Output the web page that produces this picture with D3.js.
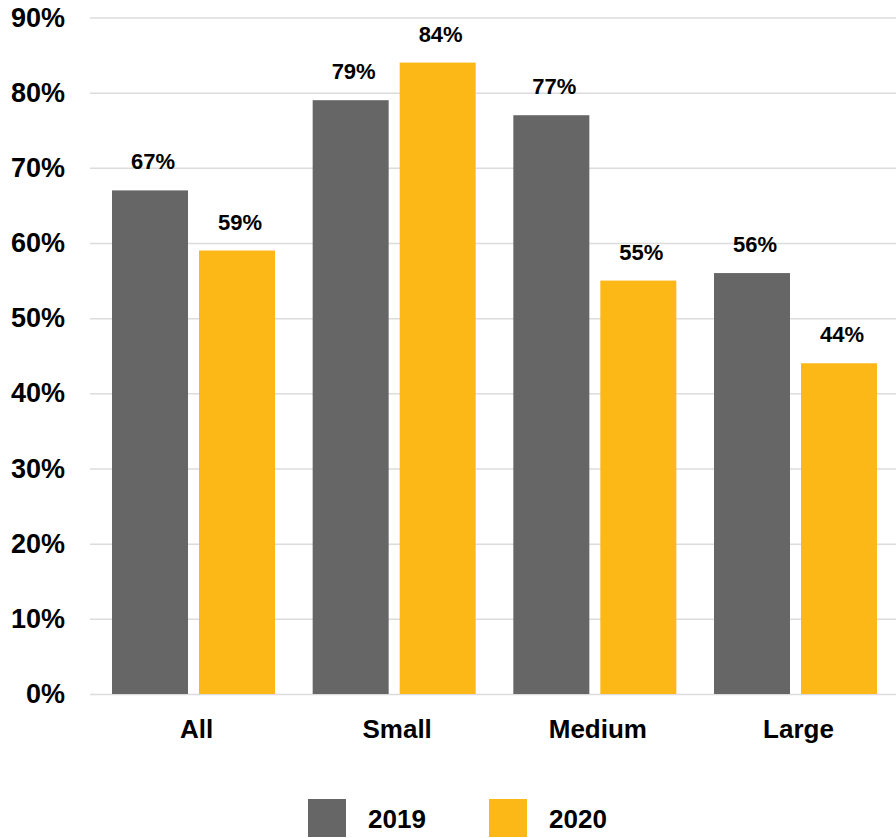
<!DOCTYPE html>
<html>
<head>
<meta charset="utf-8">
<script src="https://cdn.jsdelivr.net/npm/d3@7"></script>
<style>
  html, body { margin: 0; padding: 0; background: #fff; }
  svg { display: block; font-family: "Liberation Sans", Arial, Helvetica, sans-serif; font-weight: bold; }
</style>
</head>
<body>
<svg id="chart" width="896" height="838"></svg>
<script>
// Share of respondents by company size, 2019 vs 2020
const categories = ["All", "Small", "Medium", "Large"];
const seriesNames = ["2019", "2020"];
const values2019 = [67, 79, 77, 56];
const values2020 = [59, 84, 55, 44];
const yTicks = [0, 10, 20, 30, 40, 50, 60, 70, 80, 90];
const colors = ["#666666", "#FBB817"];

const seriesValues = [values2019, values2020];
const rows = categories.map((c, i) => ({
  category: c,
  bars: seriesNames.map((s, j) => ({ series: s, value: seriesValues[j][i] }))
}));

const svg = d3.select("#chart");

const y = d3.scaleLinear().domain([0, 90]).range([694, 17.5]);
const x = d3.scaleBand().domain(categories).range([112, 877]).paddingInner(0.1877).paddingOuter(0);
const xs = d3.scaleBand().domain(seriesNames).range([0, x.bandwidth()]).paddingInner(0.1264).paddingOuter(0);
const color = d3.scaleOrdinal().domain(seriesNames).range(colors);

// Horizontal gridlines + percentage labels
const yAxis = d3.axisLeft(y)
  .tickValues(yTicks)
  .tickFormat(d => d + "%")
  .tickSize(-806)
  .tickPadding(25);

const gy = svg.append("g")
  .attr("transform", "translate(90,0)")
  .call(yAxis);
gy.select(".domain").remove();
gy.selectAll(".tick line").attr("stroke", "#dcdcdc").attr("stroke-width", 1.5);
gy.selectAll(".tick text")
  .attr("fill", "#000")
  .attr("font-size", 27)
  .attr("font-family", "Liberation Sans, Arial, sans-serif")
  .attr("font-weight", "bold");

// Bars
const groups = svg.append("g").selectAll("g")
  .data(rows)
  .join("g")
  .attr("transform", d => `translate(${x(d.category)},0)`);

groups.selectAll("rect")
  .data(d => d.bars)
  .join("rect")
  .attr("x", d => xs(d.series))
  .attr("y", d => y(d.value))
  .attr("width", xs.bandwidth())
  .attr("height", d => y(0) - y(d.value))
  .attr("fill", d => color(d.series));

// Value labels above bars
groups.selectAll("text")
  .data(d => d.bars)
  .join("text")
  .attr("x", d => xs(d.series) + xs.bandwidth() / 2 + 3)
  .attr("y", d => y(d.value) - 21)
  .attr("text-anchor", "middle")
  .attr("font-size", 22)
  .attr("fill", "#000")
  .text(d => d.value + "%");

// Category labels
const xAxis = d3.axisBottom(x).tickSize(0).tickPadding(0);
const gx = svg.append("g")
  .attr("transform", "translate(3,0)")
  .call(xAxis);
gx.select(".domain").remove();
gx.selectAll(".tick text")
  .attr("y", 738)
  .attr("dy", null)
  .attr("fill", "#000")
  .attr("font-size", 26)
  .attr("font-family", "Liberation Sans, Arial, sans-serif")
  .attr("font-weight", "bold");

// Legend
const legendX = d3.scaleOrdinal().domain(seriesNames).range([308, 489]);
const legend = svg.append("g").selectAll("g")
  .data(seriesNames)
  .join("g")
  .attr("transform", d => `translate(${legendX(d)},799)`);
legend.append("rect")
  .attr("width", 38)
  .attr("height", 38)
  .attr("fill", d => color(d));
legend.append("text")
  .attr("x", 60)
  .attr("y", 29)
  .attr("font-size", 26)
  .attr("fill", "#000")
  .text(d => d);
</script>
</body>
</html>
